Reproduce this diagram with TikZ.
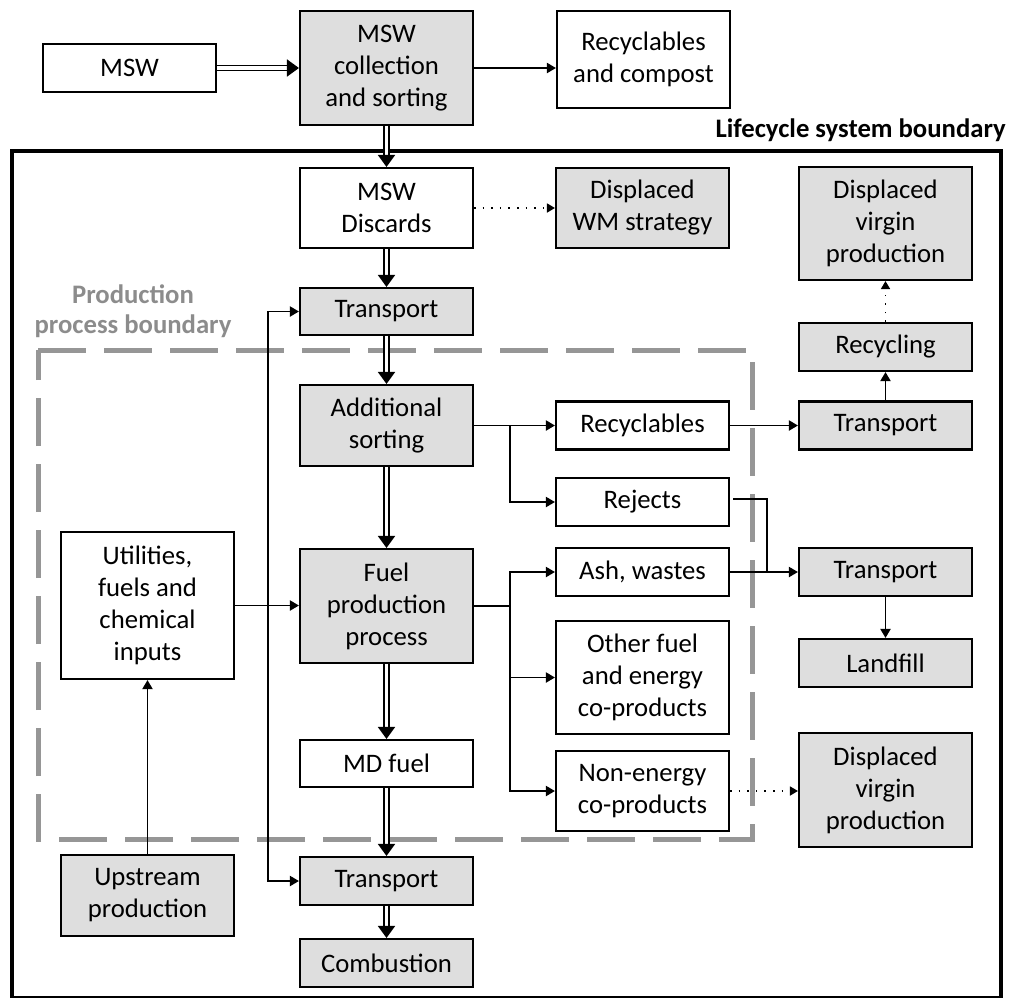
\documentclass[tikz,border=0pt]{standalone}
\usepackage{fontspec}
\setmainfont{Carlito}
\usetikzlibrary{arrows.meta}
\definecolor{boxgray}{RGB}{222,222,222}
\definecolor{labgray}{RGB}{140,140,140}
\definecolor{dashgray}{RGB}{150,150,150}
\begin{document}
\begin{tikzpicture}[x=1pt,y=-1pt,
  every node/.style={font=\fontsize{26.7}{32}\selectfont},
  box/.style={draw, line width=2.1pt, minimum width=173pt, align=center, inner sep=0pt, fill=white},
  gbox/.style={box, fill=boxgray},
  ln/.style={line width=1.9pt},
  arr/.style={ln, -{Triangle[length=9pt,width=10pt]}},
  dbl/.style={line width=1.8pt, double distance=3.2pt, -{Triangle[length=12pt,width=17pt]}},
  dotarr/.style={line width=1.6pt, dash pattern=on 1.6pt off 7pt, -{Triangle[length=8pt,width=9pt]}}
]
\useasboundingbox (0,0) rectangle (1010,997);
% boundaries
\draw[line width=4.2pt] (12,151) rectangle (1001,998);
\node[anchor=base east, inner sep=0pt, font=\fontsize{26.7}{32}\selectfont\bfseries] (lsb) at (1006,137) {Lifecycle system boundary};
\draw[dashgray, line width=5pt, dash pattern=on 48pt off 18pt] (38,350) -- (752,350) -- (752,839) -- (38,839) -- cycle;
\node[align=center, inner sep=0pt, text=labgray, font=\fontsize{26.7}{30}\selectfont\bfseries] (ppb) at (133,311) {Production\\process boundary};
% nodes
\node[box, minimum height=48pt] (msw) at (129.5,68) {MSW};
\node[gbox, minimum height=114pt] (coll) at (386.5,68) {MSW\\collection\\and sorting};
\node[box, minimum height=97pt] (recomp) at (643.5,59.5) {Recyclables\\and compost};
\node[box, minimum height=80pt] (disc) at (386.5,208) {MSW\\Discards};
\node[gbox, minimum height=80pt] (dwm) at (642.5,208) {Displaced\\WM strategy};
\node[gbox, minimum height=113pt] (dvp1) at (885.5,223.5) {Displaced\\virgin\\production};
\node[gbox, minimum height=47pt] (tr1) at (386.5,311.5) {Transport};
\node[gbox, minimum height=48pt] (recyc) at (885.5,347) {Recycling};
\node[gbox, minimum height=81pt] (addsort) at (386.5,425.5) {Additional\\sorting};
\node[box, minimum height=48pt] (recl) at (642.5,425.5) {Recyclables};
\node[gbox, minimum height=48pt] (trR1) at (885.5,425.5) {Transport};
\node[box, minimum height=48pt] (rej) at (642.5,502) {Rejects};
\node[box, minimum height=147pt] (util) at (147.5,605.5) {Utilities,\\fuels and\\chemical\\inputs};
\node[gbox, minimum height=114pt] (fuel) at (386.5,606) {Fuel\\production\\process};
\node[box, minimum height=48pt] (ash) at (642.5,572) {Ash, wastes};
\node[gbox, minimum height=48pt] (trR2) at (885.5,572) {Transport};
\node[box, minimum height=113pt] (other) at (642.5,677.5) {Other fuel\\and energy\\co-products};
\node[gbox, minimum height=48pt] (landfill) at (885.5,663) {Landfill};
\node[box, minimum height=47pt] (md) at (386.5,763.5) {MD fuel};
\node[box, minimum height=80pt] (nonen) at (642.5,791) {Non-energy\\co-products};
\node[gbox, minimum height=114pt] (dvp2) at (885.5,790) {Displaced\\virgin\\production};
\node[gbox, minimum height=81pt] (upstream) at (147.5,895.5) {Upstream\\production};
\node[gbox, minimum height=48pt] (trB) at (386.5,881) {Transport};
\node[gbox, minimum height=48pt] (comb) at (386.5,963) {Combustion};
% connectors
\draw[dbl] (msw) -- (coll);
\draw[arr] (coll.east) -- (coll.east -| recomp.west);
\draw[dbl] (coll) -- (disc);
\draw[dotarr] (disc) -- (dwm);
\draw[dbl] (disc) -- (tr1);
\draw[dbl] (tr1) -- (addsort);
\draw[dbl] (addsort) -- (fuel);
\draw[dbl] (fuel) -- (md);
\draw[dbl] (md) -- (trB);
\draw[dbl] (trB) -- (comb);
\coordinate (j) at (268,606);
\draw[arr] (util.east) -- (util.east -| fuel.west);
\draw[arr] (j) |- (tr1.west);
\draw[arr] (j) |- (trB.west);
\draw[arr] (upstream) -- (util);
\coordinate (s1) at (510,425.5);
\draw[ln] (addsort.east) -- (s1);
\draw[arr] (s1) -- (recl.west);
\draw[arr] (s1) |- (rej.west);
\coordinate (s2) at (510,606);
\draw[ln] (fuel.east) -- (s2);
\draw[arr] (s2) |- (ash.west);
\draw[arr] (s2) |- (other.west);
\draw[arr] (s2) |- (nonen.west);
\draw[arr] (recl) -- (trR1);
\coordinate (r) at (767,572);
\draw[ln] ([xshift=3pt,yshift=3pt]rej.east) -| (r);
\draw[arr] (ash) -- (trR2);
\draw[arr] (trR1) -- (recyc);
\draw[dotarr] (recyc) -- (dvp1);
\draw[arr] (trR2) -- (landfill);
\draw[dotarr] (nonen.east) -- (nonen.east -| dvp2.west);
\end{tikzpicture}
\end{document}
